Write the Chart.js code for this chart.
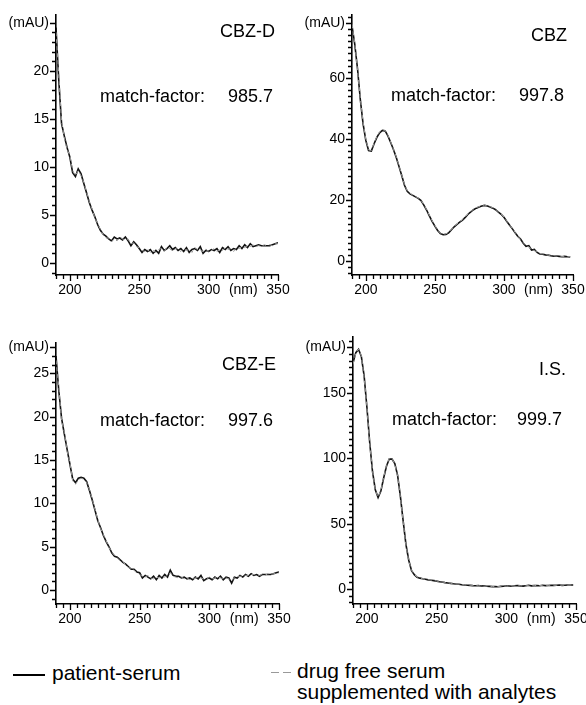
<!DOCTYPE html>
<html>
<head>
<meta charset="utf-8">
<script src="https://cdn.jsdelivr.net/npm/chart.js@4.4.1/dist/chart.umd.min.js"></script>
<style>
    html, body { margin: 0; padding: 0; background: #fff; overflow: hidden; }
    #page { position: relative; width: 586px; height: 705px; background: #fff; font-family: 'Liberation Sans', Arial, sans-serif; color: #000; }
    canvas { position: absolute; }
    .t { position: absolute; font-size: 18px; line-height: 18px; white-space: nowrap; }
    .lg { position: absolute; font-size: 21px; line-height: 21px; white-space: nowrap; }
    .sw { position: absolute; height: 0; }
</style>
</head>
<body>
<div id="page">
    <canvas id="cbzd" width="293" height="305" style="left:0;top:0"></canvas>
    <canvas id="cbz" width="293" height="305" style="left:293px;top:0"></canvas>
    <canvas id="cbze" width="293" height="305" style="left:0;top:325px"></canvas>
    <canvas id="is" width="300" height="305" style="left:293px;top:325px"></canvas>

    <div class="t" style="right:311px;top:22px">CBZ-D</div>
    <div class="t" style="left:100px;top:87px">match-factor:</div>
    <div class="t" style="right:313px;top:87px">985.7</div>

    <div class="t" style="right:19px;top:26px">CBZ</div>
    <div class="t" style="left:391px;top:86px">match-factor:</div>
    <div class="t" style="right:22px;top:86px">997.8</div>

    <div class="t" style="right:310px;top:355px">CBZ-E</div>
    <div class="t" style="left:100px;top:411px">match-factor:</div>
    <div class="t" style="right:313px;top:411px">997.6</div>

    <div class="t" style="right:20px;top:360px">I.S.</div>
    <div class="t" style="left:392px;top:410px">match-factor:</div>
    <div class="t" style="right:24px;top:410px">999.7</div>

    <div class="sw" style="left:13px;top:674px;width:32px;border-top:2.5px solid #000"></div>
    <div class="lg" style="left:52px;top:662px">patient-serum</div>
    <div class="sw" style="left:271px;top:672px;width:8px;border-top:1.5px solid #999"></div>
    <div class="sw" style="left:283px;top:672px;width:8px;border-top:1.5px solid #999"></div>
    <div class="lg" style="left:297px;top:660px">drug free serum</div>
    <div class="lg" style="left:297px;top:681px">supplemented with analytes</div>
</div>
<script>
// wavelength grid (nm)
const wavelengths = [190, 192, 194, 196, 198, 200, 202, 204, 206, 208, 210, 212, 214, 216, 218, 220, 222, 224, 226, 228,
    230, 232, 234, 236, 238, 240, 242, 244, 246, 248, 250, 252, 254, 256, 258, 260, 262, 264, 266, 268,
    270, 272, 274, 276, 278, 280, 282, 284, 286, 288, 290, 292, 294, 296, 298, 300, 302, 304, 306, 308,
    310, 312, 314, 316, 318, 320, 322, 324, 326, 328, 330, 332, 334, 336, 338, 340, 342, 344, 346, 348, 350];

const xTickLabels = [200, 250, 300, 350];
const xUnitAt = 325;
const xMinorTicks = [190, 195, 200, 205, 210, 215, 220, 225, 230, 235, 240, 245, 250, 255, 260, 265, 270, 275,
    280, 285, 290, 295, 300, 305, 310, 315, 320, 325, 330, 335, 340, 345, 350];

// CBZ-D
const cbzdPatient = [24.5, 19.0, 14.5, 13.2, 12.0, 11.0, 9.4, 9.0, 9.8, 9.3,
    8.3, 7.3, 6.3, 5.5, 4.8, 4.0, 3.4, 3.0, 2.8, 2.5,
    2.3, 2.7, 2.5, 2.6, 2.4, 2.7, 2.3, 1.8, 2.2, 1.9,
    1.5, 1.1, 1.4, 1.2, 1.4, 1.0, 1.3, 1.0, 1.7, 1.3,
    1.5, 1.8, 1.4, 1.6, 1.3, 1.5, 1.2, 1.6, 1.1, 1.4,
    1.5, 1.3, 1.7, 1.0, 1.3, 1.2, 1.4, 1.3, 1.5, 1.1,
    1.6, 1.4, 1.7, 1.3, 1.5, 1.4, 1.8, 1.5, 1.9, 1.6,
    2.0, 1.7, 1.8, 1.9, 1.8, 1.8, 1.8, 1.8, 1.9, 2.0, 2.1];
const cbzdSerum = [24.0, 19.6, 14.8, 13.0, 11.8, 11.2, 9.6, 9.1, 9.6, 9.1,
    8.4, 7.4, 6.4, 5.6, 4.7, 4.1, 3.5, 2.9, 2.6, 2.6,
    2.2, 2.5, 2.3, 2.7, 2.5, 2.4, 2.5, 2.0, 2.1, 1.7,
    1.6, 1.3, 1.2, 1.4, 1.1, 1.3, 1.1, 1.4, 1.5, 1.2,
    1.6, 1.5, 1.2, 1.5, 1.4, 1.2, 1.5, 1.3, 1.4, 1.1,
    1.6, 1.4, 1.3, 1.2, 1.5, 1.1, 1.3, 1.5, 1.2, 1.4,
    1.3, 1.6, 1.4, 1.5, 1.2, 1.6, 1.5, 1.7, 1.6, 1.8,
    1.7, 1.9, 1.7, 1.8, 1.7, 1.9, 1.8, 1.9, 1.8, 2.0, 2.0];
const cbzdYLabels = [0, 5, 10, 15, 20];

// CBZ
const cbzPatient = [77, 71, 63, 53, 45, 39.5, 36.2, 36.0, 38.4, 40.5,
    42.0, 42.8, 42.6, 41.0, 38.8, 36.5, 34.0, 31.0, 28.0, 24.8,
    22.8, 22.0, 21.5, 21.0, 20.5, 19.8, 18.3, 16.7, 14.8, 13.0,
    11.4, 10.0, 9.0, 8.6, 8.7, 9.2, 10.2, 11.2, 12.0, 12.7,
    13.4, 14.3, 15.3, 16.1, 16.8, 17.3, 17.7, 18.0, 18.2, 18.0,
    17.7, 17.3, 16.8, 16.0, 15.3, 14.3, 13.0, 11.8, 10.6, 9.3,
    8.1, 7.2, 5.8, 4.8, 5.0, 3.6, 3.8, 2.8, 2.3, 2.2,
    2.0, 1.9, 1.7, 1.6, 1.6, 1.5, 1.4, 1.5, 1.4, 1.3];
const cbzSerum = [77.5, 71.5, 62.5, 53.5, 45.5, 39.8, 36.4, 36.2, 38.6, 40.8,
    42.3, 43.0, 42.8, 41.2, 39.0, 36.6, 34.2, 31.2, 28.2, 25.0,
    23.0, 22.2, 21.6, 21.1, 20.6, 19.9, 18.5, 16.8, 15.0, 13.2,
    11.6, 10.1, 9.1, 8.7, 8.9, 9.4, 10.3, 11.4, 12.1, 12.9,
    13.5, 14.5, 15.4, 16.3, 16.9, 17.5, 17.8, 18.2, 18.3, 18.1,
    17.8, 17.4, 16.9, 16.1, 15.4, 14.4, 13.1, 11.9, 10.7, 9.4,
    8.2, 7.0, 6.0, 5.0, 4.6, 3.9, 3.4, 2.9, 2.4, 2.3,
    2.1, 1.9, 1.8, 1.7, 1.6, 1.6, 1.5, 1.5, 1.4, 1.4];
const cbzYLabels = [0, 20, 40, 60];

// CBZ-E
const cbzePatient = [27.0, 23.0, 19.8, 18.0, 16.2, 14.5, 12.8, 12.4, 12.9, 13.0,
    12.9, 12.5, 11.5, 10.4, 9.2, 8.0, 7.2, 6.3, 5.6, 5.0,
    4.3, 3.9, 3.8, 3.5, 3.2, 3.0, 2.7, 2.4, 2.4, 2.1,
    2.0, 1.4, 1.7, 1.5, 1.3, 1.6, 1.2, 1.7, 1.4, 1.8,
    1.5, 2.3, 1.7, 1.6, 1.6, 1.4, 1.5, 1.3, 1.4, 1.2,
    1.5, 1.3, 1.7, 1.1, 1.3, 1.4, 1.2, 1.5, 1.3, 1.6,
    1.2, 1.5, 1.4, 0.8, 1.5, 1.4, 1.7, 1.5, 1.8, 1.6,
    1.9, 1.7, 1.8, 1.6, 1.8, 1.8, 1.8, 1.8, 1.9, 2.0, 2.1];
const cbzeSerum = [26.5, 23.5, 19.5, 18.2, 16.0, 14.7, 12.6, 12.2, 12.7, 12.9,
    12.8, 12.4, 11.6, 10.5, 9.3, 8.1, 7.1, 6.4, 5.7, 4.9,
    4.4, 4.0, 3.7, 3.4, 3.3, 2.9, 2.6, 2.5, 2.3, 2.0,
    1.8, 1.6, 1.5, 1.7, 1.4, 1.3, 1.5, 1.4, 1.6, 1.5,
    1.7, 2.0, 1.6, 1.5, 1.4, 1.5, 1.3, 1.4, 1.2, 1.3,
    1.4, 1.5, 1.4, 1.3, 1.2, 1.5, 1.3, 1.4, 1.5, 1.4,
    1.3, 1.4, 1.3, 1.1, 1.4, 1.5, 1.6, 1.6, 1.7, 1.7,
    1.8, 1.8, 1.7, 1.7, 1.8, 1.7, 1.9, 1.8, 1.9, 1.9, 2.0];
const cbzeYLabels = [0, 5, 10, 15, 20, 25];

// I.S.
const isPatient = [173, 181, 183.5, 178, 163, 139, 112, 90, 76, 70,
    75, 85, 94, 99.5, 99.5, 96, 87, 71, 52, 34,
    22, 14, 11, 9, 8.3, 7.8, 7.4, 7.0, 6.7, 6.4,
    6.0, 5.6, 5.3, 4.9, 4.6, 4.3, 4.0, 3.8, 3.6, 3.3,
    3.1, 2.9, 2.8, 2.6, 2.5, 2.6, 2.3, 2.4, 2.1, 2.0,
    1.8, 1.9, 1.7, 2.0, 2.1, 2.4, 2.3, 2.1, 2.5, 2.6,
    2.4, 2.2, 2.5, 2.8, 2.4, 2.6, 2.7, 2.5, 2.9, 2.6,
    2.7, 2.9, 2.8, 2.9, 3.0, 2.8, 2.9, 3.1, 3.0, 3.0];
const isSerum = [172, 180.5, 183.8, 178.5, 162, 139.5, 111, 90.5, 75.5, 70.5,
    75.5, 85.5, 94.5, 100, 99.8, 95.5, 86.5, 70.5, 51.5, 33.5,
    21.5, 14.2, 11.2, 9.2, 8.4, 7.9, 7.5, 7.1, 6.8, 6.5,
    6.1, 5.7, 5.4, 5.0, 4.7, 4.4, 4.1, 3.9, 3.7, 3.4,
    3.2, 3.0, 2.9, 2.7, 2.6, 2.4, 2.4, 2.2, 2.2, 2.1,
    1.9, 1.8, 1.8, 1.9, 2.2, 2.3, 2.2, 2.2, 2.4, 2.5,
    2.5, 2.3, 2.4, 2.7, 2.5, 2.5, 2.8, 2.6, 2.8, 2.7,
    2.8, 2.8, 2.9, 2.8, 2.9, 2.9, 3.0, 3.0, 3.1, 3.0];
const isYLabels = [0, 50, 100, 150];

const tickFont = { family: "'Liberation Sans', Arial, sans-serif", size: 14 };

function toPoints(values) {
    return values.map((v, i) => ({ x: wavelengths[i], y: v }));
}

// tick comb on both axes, minor marks short, labelled marks longer
function drawTickMarks(chart, yStep, yMajor) {
    const ctx = chart.ctx;
    const area = chart.chartArea;
    const xs = chart.scales.x;
    const ys = chart.scales.y;
    ctx.save();
    ctx.strokeStyle = '#000';
    ctx.lineWidth = 1.3;
    ctx.beginPath();
    xMinorTicks.forEach(v => {
        const px = Math.round(xs.getPixelForValue(v)) + 0.5;
        const len = xTickLabels.includes(v) ? 6 : 4;
        ctx.moveTo(px, area.bottom);
        ctx.lineTo(px, area.bottom + len);
    });
    for (let v = Math.ceil(ys.min / yStep) * yStep; v <= ys.max; v += yStep) {
        const py = Math.round(ys.getPixelForValue(v)) + 0.5;
        const len = yMajor.includes(v) ? 6 : 4;
        ctx.moveTo(area.left, py);
        ctx.lineTo(area.left - len, py);
    }
    ctx.stroke();
    ctx.restore();
}

function makePanel(id, p) {
    return new Chart(document.getElementById(id), {
        type: 'line',
        data: {
            datasets: [{
                label: 'drug free serum supplemented with analytes',
                data: toPoints(p.serum),
                borderColor: '#9a9a9a',
                borderWidth: 1,
                borderDash: [4, 3]
            }, {
                label: 'patient-serum',
                data: toPoints(p.patient),
                borderColor: '#111',
                borderWidth: 1.6
            }]
        },
        options: {
            responsive: false,
            animation: false,
            devicePixelRatio: 1,
            layout: { padding: { top: p.padTop, right: p.padRight, left: 0, bottom: 0 } },
            plugins: { legend: { display: false }, tooltip: { enabled: false } },
            elements: { point: { radius: 0 }, line: { tension: 0 } },
            scales: {
                x: {
                    type: 'linear',
                    min: 190,
                    max: 350,
                    afterBuildTicks: s => {
                        s.ticks = xTickLabels.concat([xUnitAt]).map(v => ({ value: v }));
                    },
                    ticks: {
                        autoSkip: false,
                        maxRotation: 0,
                        padding: 1,
                        color: '#000',
                        font: tickFont,
                        callback: v => v === xUnitAt ? '(nm)' : String(v)
                    },
                    grid: { display: false, drawTicks: true, tickLength: 6 },
                    border: { display: true, color: '#000', width: 1.6 },
                    afterFit: s => { s.height = p.xAxisH; }
                },
                y: {
                    min: p.yMin,
                    max: p.yMax,
                    afterBuildTicks: s => {
                        s.ticks = p.yLabels.concat([p.yUnitAt]).map(v => ({ value: v }));
                    },
                    ticks: {
                        autoSkip: false,
                        padding: 1,
                        color: '#000',
                        font: tickFont,
                        callback: v => v === p.yUnitAt ? '(mAU)' : String(v)
                    },
                    grid: { display: false, drawTicks: true, tickLength: 6 },
                    border: { display: true, color: '#000', width: 1.6 },
                    afterFit: s => { s.width = p.yAxisW; }
                }
            }
        },
        plugins: [{
            id: 'tickComb',
            afterDraw: chart => drawTickMarks(chart, p.yStep, p.yLabels.concat([p.yUnitAt]))
        }]
    });
}

makePanel('cbzd', { patient: cbzdPatient, serum: cbzdSerum, yLabels: cbzdYLabels, yUnitAt: 25,
    yMin: -1.25, yMax: 25.8, yStep: 1, padTop: 15, padRight: 15, xAxisH: 30, yAxisW: 56 });
makePanel('cbz', { patient: cbzPatient, serum: cbzSerum, yLabels: cbzYLabels, yUnitAt: 78,
    yMin: -4.6, yMax: 80.6, yStep: 2, padTop: 15, padRight: 13, xAxisH: 30, yAxisW: 59 });
makePanel('cbze', { patient: cbzePatient, serum: cbzeSerum, yLabels: cbzeYLabels, yUnitAt: 28,
    yMin: -1.6, yMax: 28.5, yStep: 1, padTop: 18, padRight: 14, xAxisH: 26, yAxisW: 56 });
makePanel('is', { patient: isPatient, serum: isSerum, yLabels: isYLabels, yUnitAt: 185,
    yMin: -11.5, yMax: 193, yStep: 5, padTop: 12, padRight: 17, xAxisH: 26, yAxisW: 60 });
</script>
</body>
</html>
